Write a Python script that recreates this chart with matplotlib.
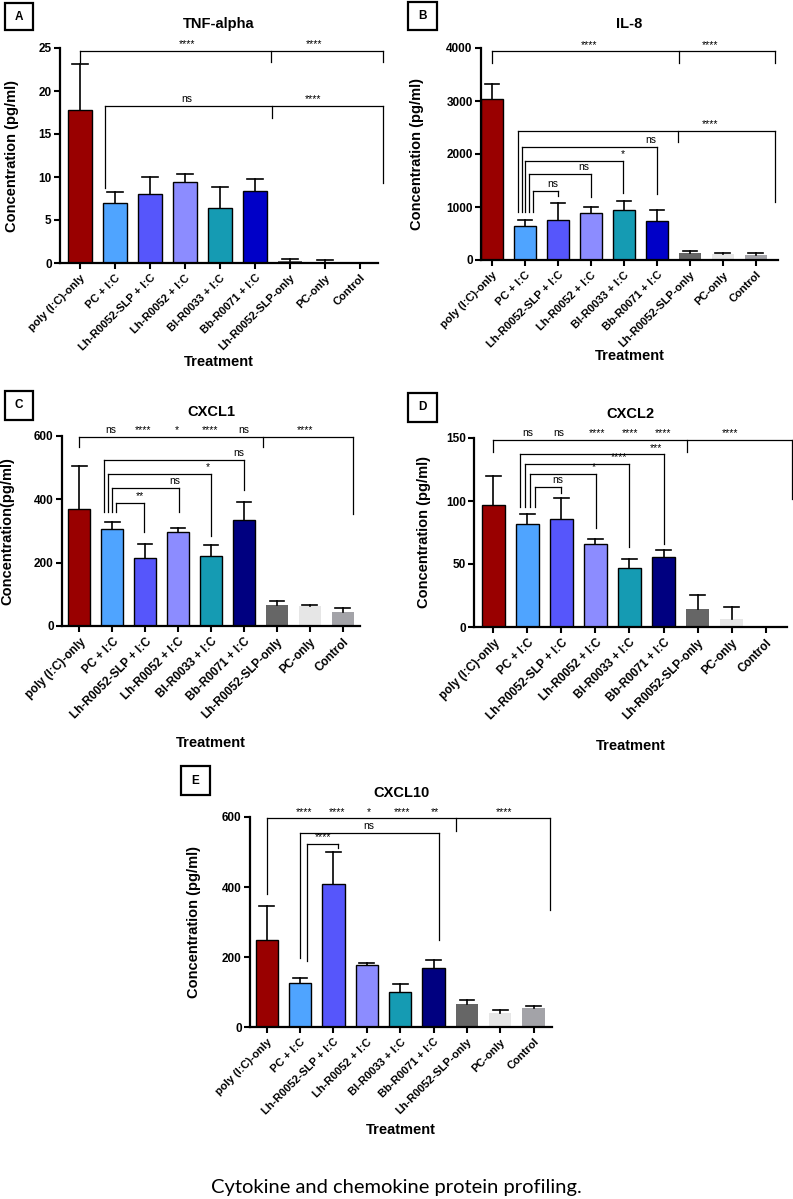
"""
Cytokine and chemokine protein profiling - five bar panels (A-E)
with GraphPad-style significance brackets.
"""

import matplotlib.pyplot as plt
import numpy as np
from matplotlib.patches import Rectangle

plt.rcParams['font.family'] = ['Liberation Sans', 'DejaVu Sans']

treatments = ['poly (I:C)-only', 'PC + I:C', 'Lh-R0052-SLP + I:C',
              'Lh-R0052 + I:C', 'Bl-R0033 + I:C', 'Bb-R0071 + I:C',
              'Lh-R0052-SLP-only', 'PC-only', 'Control']

# mean and upper error (SD)
tnf_mean = [17.8, 7.0, 8.05, 9.45, 6.35, 8.4, 0.2, 0.12, 0.0]
tnf_err = [5.3, 1.2, 2.0, 0.9, 2.45, 1.4, 0.25, 0.2, 0.0]
il8_mean = [3040, 650, 755, 880, 940, 740, 125, 105, 100]
il8_err = [290, 110, 325, 125, 175, 200, 45, 33, 35]
cxcl1_mean = [371, 305, 214, 298, 221, 334, 65, 64, 44]
cxcl1_err = [133, 24, 44, 11, 35, 58, 14, 2, 13]
cxcl2_mean = [97, 82, 86, 66, 46.8, 55.5, 14.3, 6.1, 0.0]
cxcl2_err = [22.5, 8, 16, 4, 7.5, 6, 11, 9.8, 0.0]
cxcl10_mean = [248, 126, 409, 176, 101, 170, 67, 41, 53]
cxcl10_err = [98, 13, 91, 7, 22, 22, 11, 7, 7]

bar_colors = ['#990000', '#4fa4ff', '#5656fb', '#8c8cff', '#159bb3',
              '#0000c8', '#666666', '#e6e6e6', '#a3a3a8']

# brackets: leg x positions, bar level, leg bottoms, (x, text) labels
tnf_brackets = [
    dict(xs=[0, 5.45, 8.65], y=24.65, bottoms=[23.4, 23.4, 23.4],
         labels=[(3.05, '****'), (6.7, '****')]),
    dict(xs=[0.71, 5.5, 8.65], y=18.3, bottoms=[8.7, 16.9, 9.35],
         labels=[(3.05, 'ns'), (6.67, '****')]),
]
il8_brackets = [
    dict(xs=[0, 5.66, 8.6], y=3937, bottoms=[3724, 3724, 3724],
         labels=[(2.94, '****'), (6.63, '****')]),
    dict(xs=[0.77, 5.64, 8.6], y=2430, bottoms=[910, 2229, 1086],
         labels=[(6.63, '****')]),
    dict(xs=[0.89, 5.0], y=2135, bottoms=[910, 1237], labels=[(4.83, 'ns')]),
    dict(xs=[1.01, 3.98], y=1865, bottoms=[910, 1268], labels=[(3.98, '*')]),
    dict(xs=[1.13, 3.01], y=1620, bottoms=[910, 1180], labels=[(2.79, 'ns')]),
    dict(xs=[1.24, 2.0], y=1306, bottoms=[910, 1205], labels=[(1.83, 'ns')]),
]
cxcl1_brackets = [
    dict(xs=[0, 5.57, 8.33], y=598, bottoms=[566, 566, 354],
         labels=[(0.94, 'ns'), (1.93, '****'), (2.97, '*'), (3.98, '****'),
                 (4.99, 'ns'), (6.86, '****')]),
    dict(xs=[0.76, 4.99], y=524, bottoms=[361, 429], labels=[(4.85, 'ns')]),
    dict(xs=[0.87, 4.0], y=480, bottoms=[361, 284], labels=[(3.9, '*')]),
    dict(xs=[1.0, 3.04], y=437, bottoms=[361, 361], labels=[(2.9, 'ns')]),
    dict(xs=[1.12, 1.97], y=389, bottoms=[361, 298], labels=[(1.83, '**')]),
]
cxcl2_brackets = [
    dict(xs=[0, 5.69, 8.77], y=148.7, bottoms=[138.9, 138.9, 101.9],
         labels=[(1.0, 'ns'), (1.91, 'ns'), (3.04, '****'), (4.02, '****'),
                 (5.0, '****'), (6.96, '****')]),
    dict(xs=[0.79, 5.0], y=137, bottoms=[95, 66.1], labels=[(4.78, '***')]),
    dict(xs=[0.94, 3.99], y=129.6, bottoms=[95, 63.5], labels=[(3.7, '****')]),
    dict(xs=[1.08, 3.02], y=121.7, bottoms=[95, 78.6], labels=[(2.94, '*')]),
    dict(xs=[1.23, 2.0], y=111.1, bottoms=[95, 106.3], labels=[(1.89, 'ns')]),
]
cxcl10_brackets = [
    dict(xs=[0, 5.67, 8.5], y=596, bottoms=[379, 559, 335],
         labels=[(1.13, '****'), (2.12, '****'), (3.07, '*'), (4.05, '****'),
                 (5.05, '**'), (7.1, '****')]),
    dict(xs=[1.0, 5.15], y=555, bottoms=[198, 248], labels=[(3.07, 'ns')]),
    dict(xs=[1.2, 2.13], y=524, bottoms=[190, 512], labels=[(1.7, '****')]),
]

W, H = 793, 1199
fig = plt.figure(figsize=(W / 100, H / 100), dpi=100)


def axes_px(left, top, right, bottom):
    return fig.add_axes([left / W, 1 - bottom / H, (right - left) / W,
                         (bottom - top) / H])


def letter_box(letter, x0, y0, x1, y1):
    fig.add_artist(Rectangle((x0 / W, 1 - y1 / H), (x1 - x0) / W, (y1 - y0) / H,
                             transform=fig.transFigure, fill=False,
                             edgecolor='black', linewidth=1.6))
    fig.text((x0 + x1) / 2 / W, 1 - (y0 + y1) / 2 / H, letter, ha='center',
             va='center', fontsize=8.5, fontweight='bold')


def draw_panel(ax, box, title, means, errs, ymax, step, brackets, ylabel,
               last_blue, xlim, ylab_off, xlab_off, xtick_size):
    x = np.arange(len(treatments))
    colors = bar_colors[:5] + [last_blue] + bar_colors[6:]
    edges = ['black'] * 6 + ['none'] * 3
    ax.bar(x, means, width=0.67, color=colors, edgecolor=edges,
           linewidth=1.0, zorder=2)

    # upper error bars only
    for xi, m, e in zip(x, means, errs):
        if e > 0:
            ax.plot([xi, xi], [m, m + e], color='black', lw=1.2, zorder=3)
            ax.plot([xi - 0.22, xi + 0.22], [m + e, m + e], color='black',
                    lw=1.2, zorder=3)

    for br in brackets:
        xs, y = br['xs'], br['y']
        ax.plot([xs[0], xs[-1]], [y, y], color='black', lw=0.9,
                clip_on=False, zorder=4)
        for xb, yb in zip(xs, br['bottoms']):
            ax.plot([xb, xb], [yb, y], color='black', lw=0.9,
                    clip_on=False, zorder=4)
        for lx, txt in br['labels']:
            ax.annotate(txt, (lx, y), xytext=(0, 1.2), textcoords='offset points',
                        ha='center', va='bottom', fontsize=7.5,
                        annotation_clip=False)

    ax.set_xlim(*xlim)
    ax.set_ylim(0, ymax)
    ax.set_yticks(np.arange(0, ymax + step / 2, step))
    ax.set_xticks(x)
    ax.set_xticklabels(treatments, rotation=45, ha='right',
                       rotation_mode='anchor', fontsize=xtick_size,
                       fontweight='bold')
    for lab in ax.get_yticklabels():
        lab.set_fontweight('bold')
    ax.tick_params(direction='out', length=4, width=1.5, labelsize=8.5, pad=2)
    ax.tick_params(axis='x', labelsize=xtick_size, pad=3)
    for side in ['top', 'right']:
        ax.spines[side].set_visible(False)
    for side in ['left', 'bottom']:
        ax.spines[side].set_linewidth(1.6)

    w_px = (box[2] - box[0])
    h_px = (box[3] - box[1])
    ax.text(0.5, 1 + 24 / h_px, title, transform=ax.transAxes, ha='center',
            va='center', fontsize=10.5, fontweight='bold')
    ax.set_ylabel(ylabel, fontsize=10.5, fontweight='bold')
    ax.yaxis.label.set_va('center')
    ax.yaxis.set_label_coords(-ylab_off / w_px, 0.5)
    ax.set_xlabel('Treatment', fontsize=10.5, fontweight='bold')
    ax.xaxis.label.set_va('center')
    ax.xaxis.set_label_coords(0.5, -xlab_off / h_px)


panels = [
    dict(box=(60, 48, 378, 263), letter=('A', 5, 3, 33, 30), title='TNF-alpha',
         means=tnf_mean, errs=tnf_err, ymax=25, step=5, brackets=tnf_brackets,
         ylabel='Concentration (pg/ml)', last_blue='#0000c8',
         xlim=(-0.57, 8.52), ylab_off=48, xlab_off=99, xtick_size=8),
    dict(box=(481, 48, 778, 260), letter=('B', 408, 2, 437, 30), title='IL-8',
         means=il8_mean, errs=il8_err, ymax=4000, step=1000,
         brackets=il8_brackets, ylabel='Concentration (pg/ml)',
         last_blue='#0000c8', xlim=(-0.34, 8.68), ylab_off=64, xlab_off=96,
         xtick_size=8),
    dict(box=(62, 436, 360, 626), letter=('C', 5, 391, 33, 420), title='CXCL1',
         means=cxcl1_mean, errs=cxcl1_err, ymax=600, step=200,
         brackets=cxcl1_brackets, ylabel='Concentration(pg/ml)',
         last_blue='#000080', xlim=(-0.53, 8.53), ylab_off=55, xlab_off=117,
         xtick_size=8.5),
    dict(box=(474, 438, 787, 627), letter=('D', 408, 393, 437, 422),
         title='CXCL2', means=cxcl2_mean, errs=cxcl2_err, ymax=150, step=50,
         brackets=cxcl2_brackets, ylabel='Concentration (pg/ml)',
         last_blue='#000080', xlim=(-0.57, 8.63), ylab_off=50, xlab_off=119,
         xtick_size=8.5),
    dict(box=(250, 817, 552, 1027), letter=('E', 181, 766, 210, 795),
         title='CXCL10', means=cxcl10_mean, errs=cxcl10_err, ymax=600,
         step=200, brackets=cxcl10_brackets, ylabel='Concentration (pg/ml)',
         last_blue='#000080', xlim=(-0.5, 8.55), ylab_off=56, xlab_off=103,
         xtick_size=8),
]

for p in panels:
    ax = axes_px(*p['box'])
    draw_panel(ax, p['box'], p['title'], p['means'], p['errs'], p['ymax'],
               p['step'], p['brackets'], p['ylabel'], p['last_blue'],
               p['xlim'], p['ylab_off'], p['xlab_off'], p['xtick_size'])
    letter_box(*p['letter'])

fig.text(0.5, 1 - 1188 / H, 'Cytokine and chemokine protein profiling.',
         ha='center', va='center', fontsize=14.5, family='Lato')

fig.savefig('out.png', dpi=100)
